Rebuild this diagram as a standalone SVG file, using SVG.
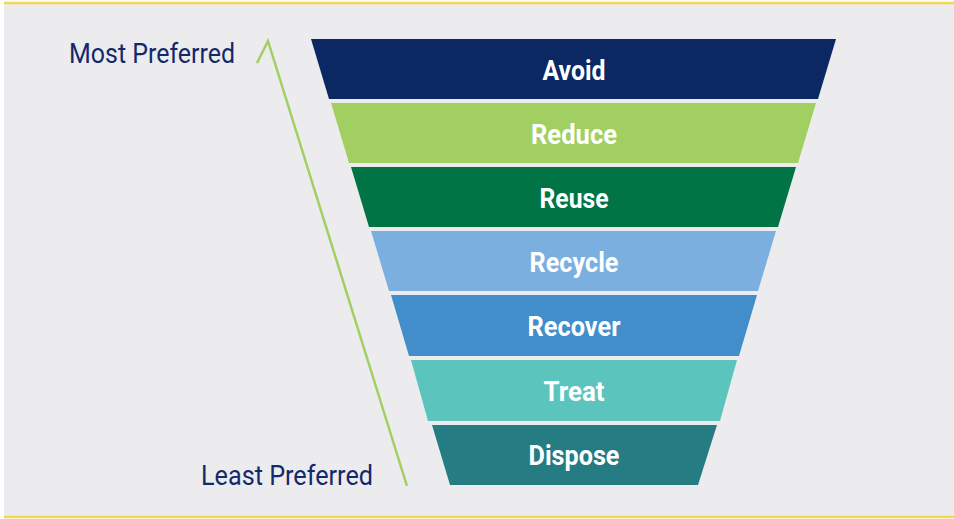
<svg xmlns="http://www.w3.org/2000/svg" width="954" height="519" viewBox="0 0 954 519">
<style>
.band-label{font-family:"Roboto","Liberation Sans",sans-serif;font-weight:bold;font-size:28px;fill:#ffffff;text-anchor:middle}
.side-label{font-family:"Roboto","Liberation Sans",sans-serif;font-size:27px;fill:#13296b}
</style>
<rect x="0" y="0" width="954" height="519" fill="#ffffff"/>
<rect x="4" y="4" width="950" height="513" fill="#ececee"/>
<line x1="4" y1="3" x2="954" y2="3" stroke="#f5d84c" stroke-width="2.5"/>
<line x1="4" y1="517" x2="954" y2="517" stroke="#f5d84c" stroke-width="2.5"/>
<g id="connectors">
<path d="M257,63 L268,41 L407,486" fill="none" stroke="#a2cf62" stroke-width="2.5"/>
</g>
<g id="label-most"><text class="side-label" x="69" y="63" textLength="166" lengthAdjust="spacingAndGlyphs">Most Preferred</text></g>
<g id="label-least"><text class="side-label" x="201" y="485" textLength="172" lengthAdjust="spacingAndGlyphs">Least Preferred</text></g>
<g id="avoid"><polygon points="311,39 836,39 818,99 329,99" fill="#0b2862"/><text class="band-label" x="574" y="80" textLength="63" lengthAdjust="spacingAndGlyphs">Avoid</text></g>
<g id="reduce"><polygon points="331,103 816,103 798,163 349,163" fill="#a2cf62"/><text class="band-label" x="574" y="144" textLength="86" lengthAdjust="spacingAndGlyphs">Reduce</text></g>
<g id="reuse"><polygon points="351,167 796,167 778,227 369,227" fill="#007445"/><text class="band-label" x="574" y="208" textLength="69" lengthAdjust="spacingAndGlyphs">Reuse</text></g>
<g id="recycle"><polygon points="371,231 776,231 758,291 389,291" fill="#7bafdf"/><text class="band-label" x="574" y="272" textLength="89" lengthAdjust="spacingAndGlyphs">Recycle</text></g>
<g id="recover"><polygon points="391,295 757,295 739,356 409,356" fill="#428ecb"/><text class="band-label" x="574" y="336" textLength="93" lengthAdjust="spacingAndGlyphs">Recover</text></g>
<g id="treat"><polygon points="411,360 737,360 720,421 428,421" fill="#5bc4bd"/><text class="band-label" x="574" y="401" textLength="61" lengthAdjust="spacingAndGlyphs">Treat</text></g>
<g id="dispose"><polygon points="432,425 717,425 698,485 450,485" fill="#257c82"/><text class="band-label" x="574" y="465" textLength="91" lengthAdjust="spacingAndGlyphs">Dispose</text></g>
</svg>
